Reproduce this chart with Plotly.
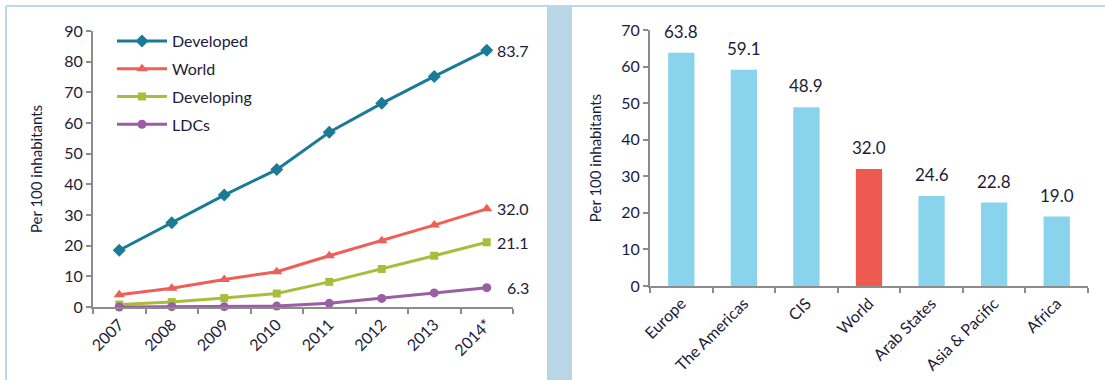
import plotly.graph_objects as go

# Left panel: subscriptions per 100 inhabitants by development group
years = ["2007", "2008", "2009", "2010", "2011", "2012", "2013", "2014*"]
developed = [18.5, 27.5, 36.5, 44.8, 57.0, 66.4, 75.2, 83.7]
world = [4.0, 6.1, 9.0, 11.5, 16.7, 21.6, 26.7, 32.0]
developing = [0.8, 1.6, 2.9, 4.4, 8.2, 12.4, 16.7, 21.1]
ldcs = [0.0, 0.1, 0.1, 0.3, 1.2, 2.8, 4.6, 6.3]

# Right panel: 2014 by region
regions = ["Europe", "The Americas", "CIS", "World", "Arab States", "Asia & Pacific", "Africa"]
region_values = [63.8, 59.1, 48.9, 32.0, 24.6, 22.8, 19.0]

W, H = 1105, 380
FONT = "Lato, Carlito, Calibri, sans-serif"
TXT = "#1c1c3a"
AXIS = "#8c8c8c"
FRAME = "#bcd8ea"


def px_x(p):
    return p / W


def px_y(p):
    return 1 - p / H


fig = go.Figure()

series = [
    ("Developed", developed, "#1b7b97", "diamond", 10),
    ("World", world, "#ef5f57", "triangle-up", 10),
    ("Developing", developing, "#a9bd3c", "square", 8),
    ("LDCs", ldcs, "#9a5fa3", "circle", 9),
]
for name, vals, color, sym, size in series:
    fig.add_trace(go.Scatter(
        x=years, y=vals, name=name, mode="lines+markers",
        line=dict(color=color, width=3),
        marker=dict(symbol=sym, size=size, color=color),
        xaxis="x", yaxis="y", cliponaxis=False,
        legendgroup=name,
    ))
    fig.add_annotation(
        x=years[-1], y=vals[-1], xref="x", yref="y",
        text=f"{vals[-1]:.1f}", showarrow=False,
        xanchor="right", xshift=44,
        font=dict(family=FONT, size=16, color=TXT),
    )

bar_colors = ["#ec5a50" if r == "World" else "#8ad3ed" for r in regions]
fig.add_trace(go.Bar(
    x=regions, y=region_values, marker=dict(color=bar_colors, line=dict(width=0)),
    width=0.42, xaxis="x2", yaxis="y2", showlegend=False,
))
for r, v in zip(regions, region_values):
    fig.add_annotation(
        x=r, y=v, xref="x2", yref="y2", text=f"{v:.1f}", showarrow=False,
        yanchor="bottom", yshift=9,
        font=dict(family=FONT, size=17, color=TXT),
    )

axis_common = dict(
    showgrid=False, zeroline=False, showline=True, linecolor=AXIS, linewidth=2,
    ticks="outside", tickcolor=AXIS, tickwidth=2, ticklen=5, automargin=False,
    tickfont=dict(family=FONT, size=16, color=TXT),
)

fig.update_layout(
    width=W, height=H, autosize=False,
    margin=dict(l=0, r=0, t=0, b=0, pad=0),
    paper_bgcolor="white", plot_bgcolor="white",
    font=dict(family=FONT, color=TXT),
    bargap=0.58,
    xaxis=dict(domain=[px_x(93), px_x(513)], anchor="y", type="category",
               range=[-0.5, 7.5], tickson="boundaries", tickangle=-45,
               **axis_common),
    yaxis=dict(domain=[px_y(307), px_y(31)], anchor="x", range=[0, 90],
               dtick=10, title=dict(text="Per 100 inhabitants", standoff=18,
                                    font=dict(family=FONT, size=15, color=TXT)),
               **axis_common),
    xaxis2=dict(domain=[px_x(650), px_x(1088)], anchor="y2", type="category",
                range=[-0.5, 6.5], tickson="boundaries", tickangle=-45,
                **axis_common),
    yaxis2=dict(domain=[px_y(286), px_y(30)], anchor="x2", range=[0, 70],
                dtick=10, title=dict(text="Per 100 inhabitants", standoff=16,
                                     font=dict(family=FONT, size=15, color=TXT)),
                **axis_common),
    legend=dict(x=px_x(112), y=px_y(24), xanchor="left", yanchor="top",
                bgcolor="rgba(0,0,0,0)", tracegroupgap=4,
                font=dict(family=FONT, size=16, color=TXT),
                itemwidth=50),
    shapes=[
        dict(type="line", xref="paper", yref="paper", x0=px_x(6), x1=1,
             y0=px_y(6), y1=px_y(6), line=dict(color=FRAME, width=2)),
        dict(type="line", xref="paper", yref="paper", x0=px_x(6), x1=px_x(6),
             y0=px_y(6), y1=0, line=dict(color=FRAME, width=2)),
        dict(type="rect", xref="paper", yref="paper", x0=px_x(547), x1=px_x(572),
             y0=0, y1=px_y(7), fillcolor="#b9d6e7", line=dict(width=0)),
    ],
)

# The page is sized exactly to the figure, so drop the default body margin.
fig.write_html("out.html", post_script="document.body.style.margin='0';")
